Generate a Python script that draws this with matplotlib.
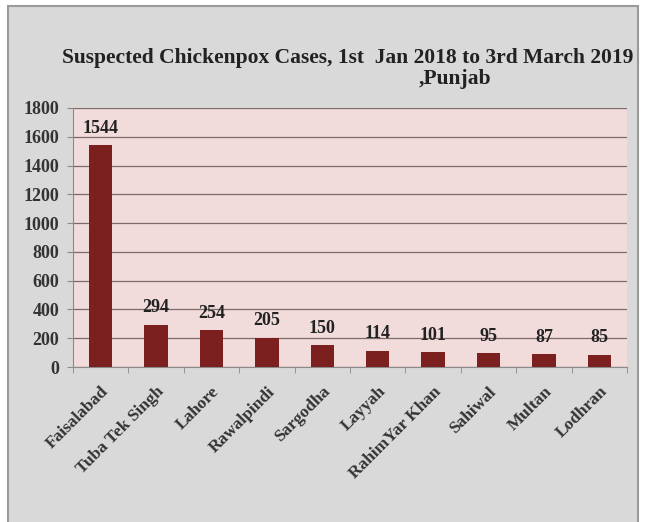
import matplotlib.pyplot as plt
from matplotlib.patches import Rectangle
from matplotlib.transforms import ScaledTranslation
import numpy as np

# data
districts = ['Faisalabad', 'Tuba Tek Singh', 'Lahore', 'Rawalpindi', 'Sargodha',
             'Layyah', 'RahimYar Khan', 'Sahiwal', 'Multan', 'Lodhran']
cases = [1544, 294, 254, 205, 150, 114, 101, 95, 87, 85]
yticks = [0, 200, 400, 600, 800, 1000, 1200, 1400, 1600, 1800]

serif = ['Liberation Serif', 'DejaVu Serif']

fig = plt.figure(figsize=(6.46, 5.22), dpi=100)
fig.patch.set_facecolor('white')

# grey chart panel
fig.patches.append(Rectangle((8 / 646, -0.01), 630 / 646, 1 - 6 / 522 + 0.01,
                             transform=fig.transFigure, facecolor='#d9d9d9',
                             edgecolor='#9a9a9a', linewidth=1.5, zorder=-5))

ax = fig.add_axes([73 / 646, 1 - 367 / 522, 554 / 646, 259 / 522])
ax.set_zorder(2)
ax.set_facecolor('#f2dcdb')

x = np.arange(len(districts))
bars = ax.bar(x, cases, width=0.42, color='#7b1f1f', zorder=3)

for xi, v in zip(x, cases):
    ax.annotate(str(v), (xi, v), xytext=(0, 6), textcoords='offset points',
                ha='center', va='bottom', fontsize=13, fontweight='bold',
                family=serif, color='#222222')

ax.set_ylim(0, 1800)
ax.set_xlim(-0.5, len(districts) - 0.5)
ax.set_yticks(yticks)
ax.set_yticklabels([str(t) for t in yticks], fontsize=13, fontweight='bold',
                   family=serif, color='#333333')
ax.set_xticks(x)
ax.set_xticklabels(districts, rotation=45, ha='right', rotation_mode='anchor',
                   fontsize=12.5, fontweight='bold', family=serif, color='#333333')
# nudge rotated labels a little left so their ends sit under the bars
for lbl in ax.get_xticklabels():
    lbl.set_transform(lbl.get_transform() + ScaledTranslation(-5 / 100, 0, fig.dpi_scale_trans))
ax.set_xticks(np.arange(-0.5, len(districts), 1), minor=True)
ax.tick_params(axis='x', which='major', length=0, pad=12)
ax.tick_params(axis='x', which='minor', length=4, color='#8a8a8a')
ax.tick_params(axis='y', length=4, color='#8a8a8a', pad=6)

ax.grid(axis='y', color='#7a6a6a', linewidth=0.9, zorder=1)
ax.set_axisbelow(True)
for s in ['top', 'right']:
    ax.spines[s].set_visible(False)
ax.spines['left'].set_color('#8a8a8a')
ax.spines['bottom'].set_color('#8a8a8a')

# title
fig.text(348 / 646, 1 - 58 / 522, 'Suspected Chickenpox Cases, 1st  Jan 2018 to 3rd March 2019',
         ha='center', va='center', fontsize=15.5, fontweight='bold', family=serif, color='#222222')
fig.text(455 / 646, 1 - 79 / 522, ',Punjab', ha='center', va='center', fontsize=15.5,
         fontweight='bold', family=serif, color='#222222')

fig.savefig('out.png', dpi=100)
